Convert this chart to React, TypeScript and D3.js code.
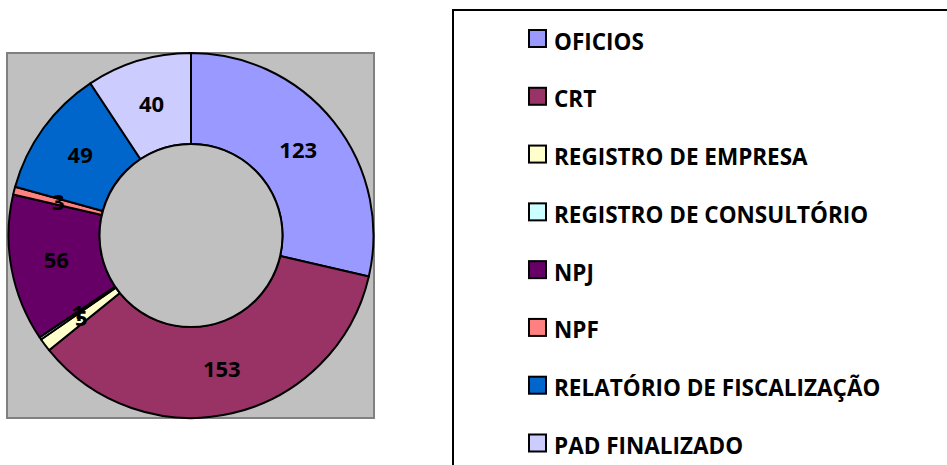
import React from "react";
import * as d3 from "d3";

const categories = [
  "OFICIOS",
  "CRT",
  "REGISTRO DE EMPRESA",
  "REGISTRO DE CONSULTÓRIO",
  "NPJ",
  "NPF",
  "RELATÓRIO DE FISCALIZAÇÃO",
  "PAD FINALIZADO",
];
const values = [123, 153, 5, 1, 56, 3, 49, 40];
const colors = ["#9999FF", "#993366", "#FFFFCC", "#CCFFFF", "#660066", "#FF8080", "#0066CC", "#CCCCFF"];

const W = 947;
const H = 465;
const FONT = "'Open Sans', 'DejaVu Sans', sans-serif";

export default function App() {
  const cx = 191;
  const cy = 235.5;
  const outerR = 182.5;
  const innerR = 91.5;

  const data = categories.map((c, i) => ({ name: c, value: values[i], color: colors[i] }));
  const pie = d3.pie<any>().value((d: any) => d.value).sort(null).startAngle(0).endAngle(2 * Math.PI);
  const arcs = pie(data);
  const arc = d3.arc<any>().innerRadius(innerR).outerRadius(outerR);

  const rowY = d3.scalePoint<string>().domain(categories).range([30, 434.5]);

  return (
    <svg
      width={W}
      height={H}
      style={{ position: "absolute", left: 0, top: 0, display: "block", background: "#fff" }}
    >
      {/* plot area */}
      <rect x={7} y={53} width={367} height={365} fill="#C0C0C0" stroke="#808080" strokeWidth={2} />
      <g transform={`translate(${cx},${cy})`}>
        {arcs.map((a, i) => (
          <path key={i} d={arc(a) as string} fill={a.data.color} stroke="#000" strokeWidth={2} strokeLinejoin="round" />
        ))}
        <circle r={innerR} fill="#C0C0C0" stroke="#000" strokeWidth={2} />
        {arcs.map((a, i) => {
          const [x, y] = arc.centroid(a);
          return (
            <text
              key={"l" + i}
              x={x}
              y={y}
              dy="0.36em"
              textAnchor="middle"
              fontFamily={FONT}
              fontWeight="bold"
              fontSize={22}
              fill="#000"
            >
              {a.data.value}
            </text>
          );
        })}
      </g>
      {/* legend */}
      <rect x={453} y={10} width={520} height={500} fill="#fff" stroke="#000" strokeWidth={2} />
      {data.map((d, i) => {
        const y = rowY(d.name) as number;
        return (
          <g key={"lg" + i}>
            <rect x={529} y={y} width={17} height={17} fill={d.color} stroke="#000" strokeWidth={2} />
            <text x={554} y={y + 19.5} fontFamily={FONT} fontWeight="bold" fontSize={22.5} fill="#000">
              {d.name}
            </text>
          </g>
        );
      })}
    </svg>
  );
}
